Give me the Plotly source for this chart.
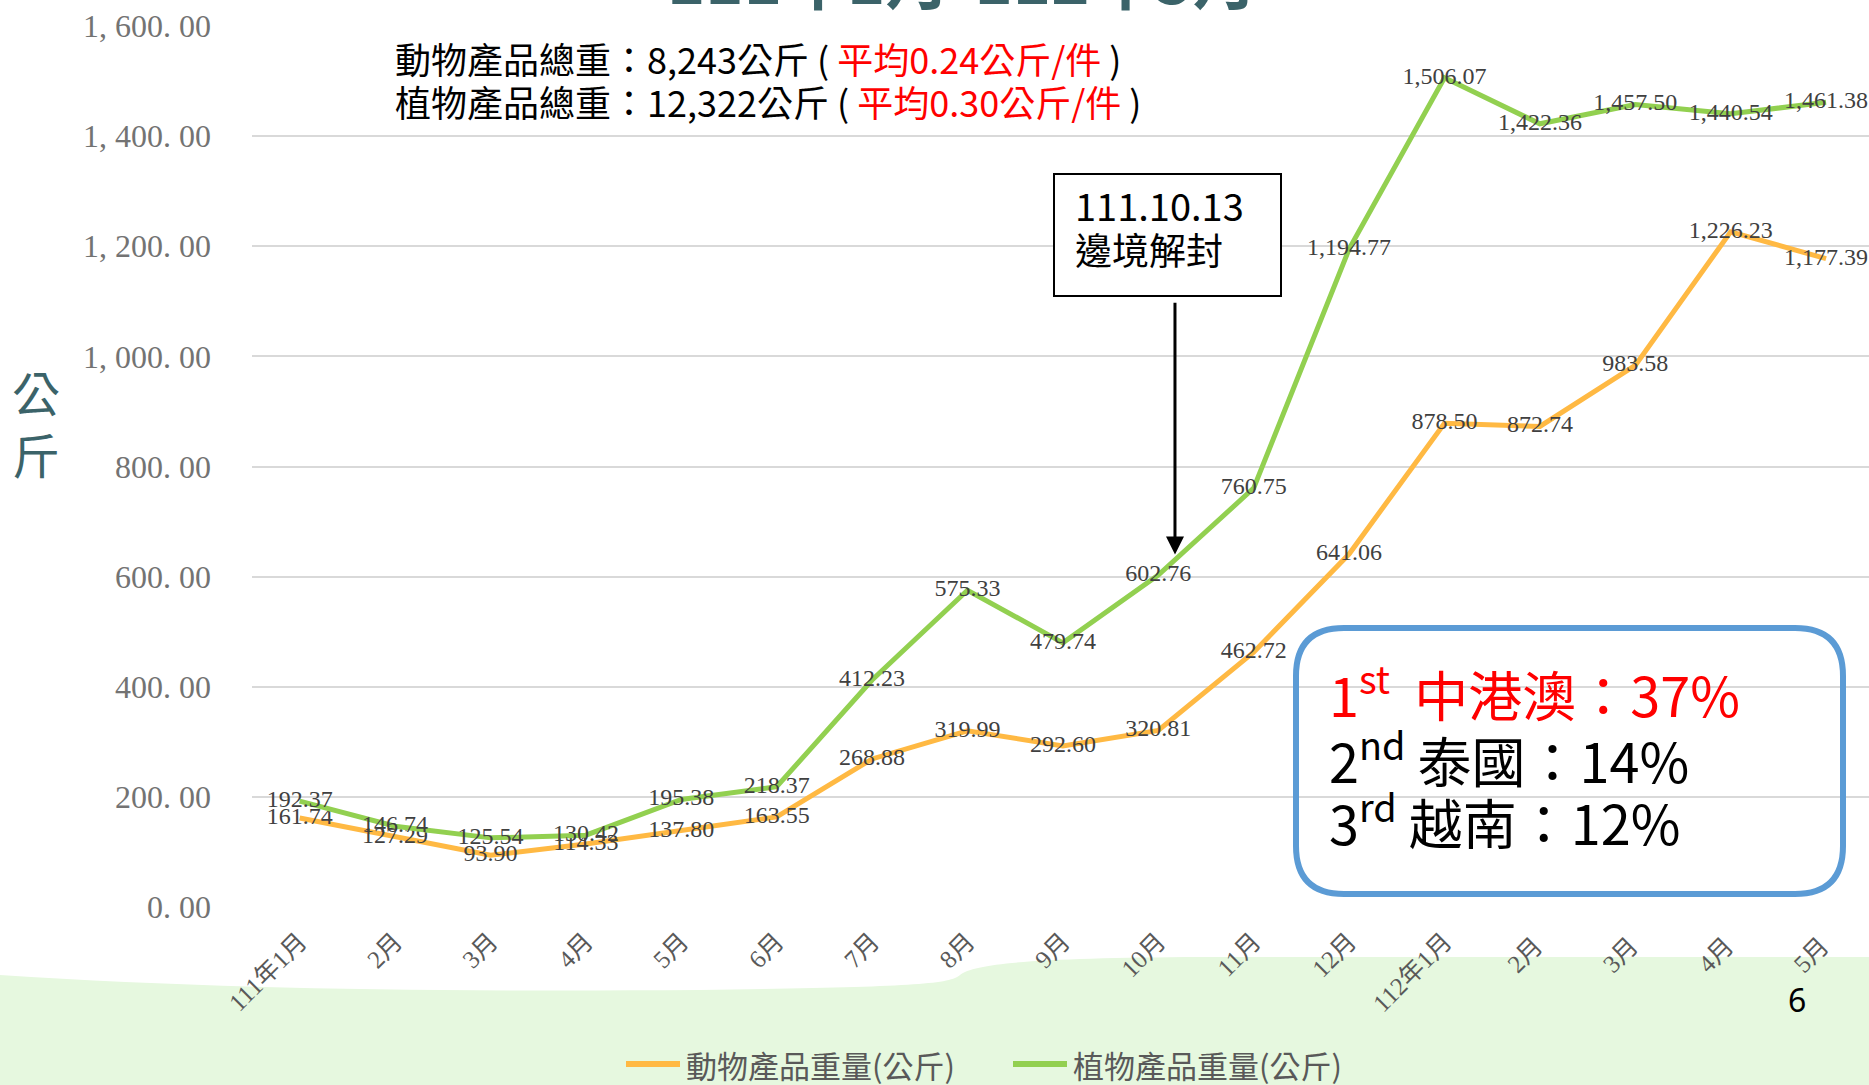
import plotly.graph_objects as go

# ---------------- data ----------------
months = ["111年1月", "2月", "3月", "4月", "5月", "6月", "7月", "8月", "9月", "10月",
          "11月", "12月", "112年1月", "2月 ", "3月 ", "4月 ", "5月 "]
animal_kg = [161.74, 127.29, 93.90, 114.33, 137.80, 163.55, 268.88, 319.99, 292.60, 320.81,
             462.72, 641.06, 878.50, 872.74, 983.58, 1226.23, 1177.39]
plant_kg = [192.37, 146.74, 125.54, 130.42, 195.38, 218.37, 412.23, 575.33, 479.74, 602.76,
            760.75, 1194.77, 1506.07, 1422.36, 1457.50, 1440.54, 1461.38]
y_tickvals = [0, 200, 400, 600, 800, 1000, 1200, 1400, 1600]
y_ticktext = ["0. 00", "200. 00", "400. 00", "600. 00", "800. 00",
              "1, 000. 00", "1, 200. 00", "1, 400. 00", "1, 600. 00"]
series_names = ["動物產品重量(公斤)", "植物產品重量(公斤)"]
series_colors = ["#FFB943", "#92D050"]

W, H = 1869, 1085
def px(x):  # pixel -> paper x
    return x / W
def py(y):  # pixel (from top) -> paper y
    return 1 - y / H

CJK = "Noto Sans CJK TC"
SERIF = "Liberation Serif, Noto Sans CJK TC"

xs = list(range(len(months)))
fig = go.Figure()
for vals, name, col in [(animal_kg, series_names[0], series_colors[0]),
                        (plant_kg, series_names[1], series_colors[1])]:
    fig.add_trace(go.Scatter(
        x=xs, y=vals, name=name, mode="lines+text",
        line=dict(color=col, width=5),
        texttemplate="%{y:,.2f}", textposition="middle center",
        textfont=dict(family=SERIF, size=24, color="#404040"),
        hoverinfo="skip", cliponaxis=False, showlegend=False,
    ))

fig.update_layout(
    template="none",
    width=W, height=H, autosize=False,
    margin=dict(l=0, r=0, t=0, b=0, pad=0, autoexpand=False),
    paper_bgcolor="white", plot_bgcolor="rgba(0,0,0,0)",
    showlegend=False,
    xaxis=dict(domain=[px(252), 1], range=[-0.5, 16.45], automargin=False,
               tickmode="array", tickvals=xs, ticktext=months, tickangle=-45,
               tickfont=dict(family=SERIF, size=25, color="#595959"),
               showgrid=False, zeroline=False, showline=False, ticks="",
               ticklabelstandoff=14),
    yaxis=dict(domain=[py(907), py(26)], range=[0, 1600], automargin=False,
               tickmode="array", tickvals=y_tickvals, ticktext=y_ticktext,
               tickfont=dict(family="Liberation Serif", size=32, color="#737373"),
               showgrid=True, gridcolor="#D9D9D9", gridwidth=2,
               zeroline=False, showline=False, ticks="", ticklabelstandoff=40),
)

shapes = []
# decorative light green background at bottom
green_path = (f"M 0,{py(975)} "
              f"C {px(200)},{py(988)} {px(400)},{py(992)} {px(700)},{py(990)} "
              f"C {px(900)},{py(987)} {px(950)},{py(985)} {px(960)},{py(975)} "
              f"C {px(975)},{py(962)} {px(1050)},{py(958)} {px(1200)},{py(957)} "
              f"L 1,{py(957)} L 1,0 L 0,0 Z")
shapes.append(dict(type="path", xref="paper", yref="paper", path=green_path,
                   fillcolor="#E6F8DF", line=dict(width=0), layer="below"))
# border-opening box
shapes.append(dict(type="rect", xref="paper", yref="paper",
                   x0=px(1054), x1=px(1281), y0=py(296), y1=py(174),
                   line=dict(color="black", width=2), fillcolor="white", layer="above"))
# rounded blue box
x0, x1, y0, y1 = px(1296), px(1843), py(894), py(628)
rx, ry = px(48), 48 / H
rb = (f"M {x0+rx},{y1} L {x1-rx},{y1} Q {x1},{y1} {x1},{y1-ry} "
      f"L {x1},{y0+ry} Q {x1},{y0} {x1-rx},{y0} "
      f"L {x0+rx},{y0} Q {x0},{y0} {x0},{y0+ry} "
      f"L {x0},{y1-ry} Q {x0},{y1} {x0+rx},{y1} Z")
shapes.append(dict(type="path", xref="paper", yref="paper", path=rb,
                   line=dict(color="#5B9BD5", width=6), fillcolor="rgba(0,0,0,0)", layer="above"))
# custom legend line samples
legend_x = [(626, 680), (1013, 1067)]
legend_y = 1064
for (lx0, lx1), col in zip(legend_x, series_colors):
    shapes.append(dict(type="line", xref="paper", yref="paper",
                       x0=px(lx0), x1=px(lx1), y0=py(legend_y), y1=py(legend_y),
                       line=dict(color=col, width=6), layer="above"))
fig.update_layout(shapes=shapes)

ann = []
# custom legend texts
for (lx0, lx1), name in zip(legend_x, series_names):
    ann.append(dict(xref="paper", yref="paper", x=px(lx1 + 4), y=py(legend_y), xanchor="left",
                    yanchor="middle", text=name, showarrow=False,
                    font=dict(family=CJK, size=31, color="#595959")))
# cut-off title at top
ann.append(dict(xref="paper", yref="paper", x=px(962), y=py(25), xanchor="center", yanchor="bottom",
                text="<b>111年1月-112年5月</b>", showarrow=False,
                font=dict(family=CJK, size=65, color="#3B6369")))
# summary lines
ann.append(dict(xref="paper", yref="paper", x=px(393), y=py(58), xanchor="left", yanchor="middle",
                text="動物產品總重：8,243公斤 ( <span style='color:#FF0000'>平均0.24公斤/件</span> )",
                showarrow=False, font=dict(family=CJK, size=36, color="black")))
ann.append(dict(xref="paper", yref="paper", x=px(393), y=py(101), xanchor="left", yanchor="middle",
                text="植物產品總重：12,322公斤 ( <span style='color:#FF0000'>平均0.30公斤/件</span> )",
                showarrow=False, font=dict(family=CJK, size=36, color="black")))
# y axis title
ann.append(dict(xref="paper", yref="paper", x=px(36), y=py(422), xanchor="center", yanchor="middle",
                text="公<br>斤", showarrow=False,
                font=dict(family=CJK, size=48, color="#3B6369")))
# box text
ann.append(dict(xref="paper", yref="paper", x=px(1073), y=py(205), xanchor="left", yanchor="middle",
                text="111.10.13", showarrow=False, font=dict(family=CJK, size=38, color="black")))
ann.append(dict(xref="paper", yref="paper", x=px(1073), y=py(249), xanchor="left", yanchor="middle",
                text="邊境解封", showarrow=False, font=dict(family=CJK, size=37, color="black")))
# arrow
ann.append(dict(xref="x", yref="y", x=9.175, y=640, axref="x", ayref="y", ax=9.175, ay=1100,
                text="", showarrow=True, arrowhead=2, arrowsize=1.2, arrowwidth=3,
                arrowcolor="black", standoff=0))
# ranking text
ann.append(dict(xref="paper", yref="paper", x=px(1327), y=py(691), xanchor="left", yanchor="middle",
                text="1<sup>st</sup>  中港澳：37%", showarrow=False,
                font=dict(family=CJK, size=54, color="#FF0000")))
ann.append(dict(xref="paper", yref="paper", x=px(1327), y=py(757), xanchor="left", yanchor="middle",
                text="2<sup>nd</sup> 泰國：14%", showarrow=False,
                font=dict(family=CJK, size=54, color="black")))
ann.append(dict(xref="paper", yref="paper", x=px(1327), y=py(820), xanchor="left", yanchor="middle",
                text="3<sup>rd</sup> 越南：12%", showarrow=False,
                font=dict(family=CJK, size=54, color="black")))
# page number
ann.append(dict(xref="paper", yref="paper", x=px(1797), y=py(999), xanchor="center", yanchor="middle",
                text="6", showarrow=False, font=dict(family="Noto Sans", size=32, color="black")))
fig.update_layout(annotations=ann)

fig.write_html("out.html", post_script="document.body.style.margin='0';",
               config={"displayModeBar": False})
